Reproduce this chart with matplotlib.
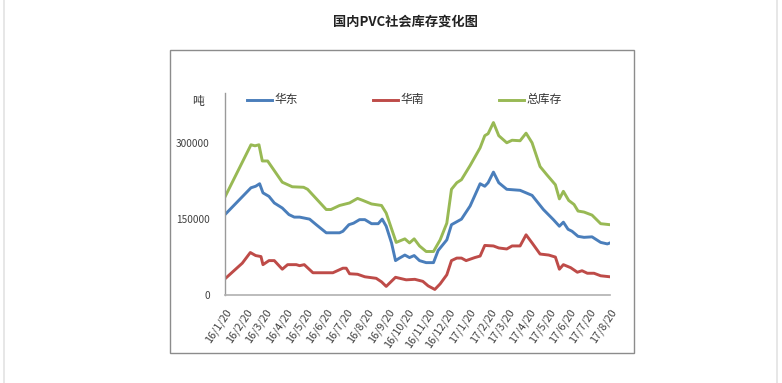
import matplotlib
matplotlib.use("Agg")
import matplotlib.pyplot as plt
from matplotlib.lines import Line2D
from matplotlib.patches import Rectangle
import pandas as pd

plt.rcParams['font.family'] = ['Noto Sans CJK SC', 'DejaVu Sans']

title = "国内PVC社会库存变化图"
unit_label = "吨"
series_names = ["华东", "华南", "总库存"]
series_colors = ["#4A7EBB", "#BE4B48", "#98B954"]

east_dates = ["2016-01-20", "2016-02-28", "2016-03-06", "2016-03-12", "2016-03-17", "2016-03-26",
              "2016-04-03", "2016-04-15", "2016-04-25", "2016-05-03", "2016-05-11", "2016-05-26",
              "2016-06-05", "2016-06-20", "2016-07-10", "2016-07-15", "2016-07-24", "2016-07-31",
              "2016-08-09", "2016-08-17", "2016-08-27", "2016-09-06", "2016-09-12", "2016-09-18",
              "2016-09-26", "2016-10-02", "2016-10-08", "2016-10-16", "2016-10-23", "2016-10-30",
              "2016-11-07", "2016-11-17", "2016-11-28", "2016-12-05", "2016-12-18", "2016-12-25",
              "2017-01-09", "2017-01-22", "2017-02-06", "2017-02-13", "2017-02-18", "2017-02-26",
              "2017-03-06", "2017-03-18", "2017-04-07", "2017-04-25", "2017-05-12", "2017-05-27",
              "2017-06-05", "2017-06-11", "2017-06-18", "2017-06-24", "2017-07-03", "2017-07-12",
              "2017-07-24", "2017-08-06", "2017-08-16", "2017-08-20"]
east_values = [159000, 212000, 215000, 220000, 202000, 195000,
               182000, 172000, 159000, 154000, 154000, 150000,
               139000, 123000, 123000, 126000, 139000, 142000,
               149000, 149000, 141000, 141000, 150000, 136000,
               103000, 68000, 73000, 79000, 74000, 78000,
               68000, 64000, 64000, 88000, 109000, 139000,
               150000, 176000, 220000, 215000, 222000, 243000,
               222000, 209000, 207000, 197000, 169000, 149000,
               136000, 144000, 130000, 126000, 116000, 114000,
               115000, 104000, 101000, 103000]

south_dates = ["2016-01-20", "2016-02-15", "2016-02-27", "2016-03-06", "2016-03-14", "2016-03-17",
               "2016-03-26", "2016-04-03", "2016-04-15", "2016-04-23", "2016-05-06", "2016-05-11",
               "2016-05-18", "2016-05-31", "2016-06-30", "2016-07-15", "2016-07-20", "2016-07-25",
               "2016-08-06", "2016-08-17", "2016-09-03", "2016-09-11", "2016-09-18", "2016-10-02",
               "2016-10-18", "2016-10-31", "2016-11-12", "2016-11-20", "2016-11-30", "2016-12-08",
               "2016-12-18", "2016-12-25", "2017-01-02", "2017-01-09", "2017-01-16", "2017-01-29",
               "2017-02-06", "2017-02-13", "2017-02-26", "2017-03-06", "2017-03-18", "2017-03-26",
               "2017-04-07", "2017-04-16", "2017-04-25", "2017-05-07", "2017-05-20", "2017-05-30",
               "2017-06-05", "2017-06-11", "2017-06-22", "2017-07-02", "2017-07-09", "2017-07-17",
               "2017-07-27", "2017-08-06", "2017-08-20"]
south_values = [32000, 63000, 84000, 78000, 76000, 60000,
                68000, 68000, 51000, 60000, 60000, 58000,
                60000, 44000, 44000, 53000, 53000, 42000,
                41000, 36000, 33000, 26000, 17000, 35000,
                30000, 31000, 27000, 18000, 11000, 22000,
                40000, 68000, 73000, 73000, 68000, 74000,
                77000, 98000, 97000, 93000, 91000, 97000,
                97000, 119000, 103000, 81000, 79000, 75000,
                51000, 60000, 54000, 45000, 48000, 43000,
                43000, 38000, 36000]

total_dates = ["2016-01-20", "2016-02-28", "2016-03-05", "2016-03-11", "2016-03-16", "2016-03-24",
               "2016-04-15", "2016-04-30", "2016-05-17", "2016-05-23", "2016-06-20", "2016-06-27",
               "2016-07-10", "2016-07-25", "2016-08-06", "2016-08-14", "2016-08-27", "2016-09-11",
               "2016-09-18", "2016-10-03", "2016-10-16", "2016-10-23", "2016-10-30", "2016-11-07",
               "2016-11-17", "2016-11-28", "2016-12-08", "2016-12-18", "2016-12-25", "2017-01-02",
               "2017-01-09", "2017-01-22", "2017-02-06", "2017-02-13", "2017-02-18", "2017-02-26",
               "2017-03-06", "2017-03-18", "2017-03-26", "2017-04-07", "2017-04-16", "2017-04-25",
               "2017-05-07", "2017-05-17", "2017-05-30", "2017-06-05", "2017-06-11", "2017-06-19",
               "2017-06-27", "2017-07-03", "2017-07-12", "2017-07-24", "2017-08-06", "2017-08-20"]
total_values = [194000, 297000, 295000, 297000, 265000, 265000,
                223000, 214000, 213000, 209000, 169000, 169000,
                177000, 182000, 191000, 187000, 180000, 177000,
                162000, 104000, 111000, 103000, 111000, 97000,
                86000, 86000, 109000, 142000, 209000, 222000,
                228000, 256000, 291000, 315000, 319000, 341000,
                315000, 301000, 306000, 305000, 320000, 301000,
                254000, 238000, 218000, 190000, 205000, 187000,
                179000, 166000, 164000, 158000, 141000, 139000]

x_tick_dates = ["2016-01-20", "2016-02-20", "2016-03-20", "2016-04-20", "2016-05-20", "2016-06-20",
                "2016-07-20", "2016-08-20", "2016-09-20", "2016-10-20", "2016-11-20", "2016-12-20",
                "2017-01-20", "2017-02-20", "2017-03-20", "2017-04-20", "2017-05-20", "2017-06-20",
                "2017-07-20", "2017-08-20"]
x_tick_labels = ["16/1/20", "16/2/20", "16/3/20", "16/4/20", "16/5/20", "16/6/20",
                 "16/7/20", "16/8/20", "16/9/20", "16/10/20", "16/11/20", "16/12/20",
                 "17/1/20", "17/2/20", "17/3/20", "17/4/20", "17/5/20", "17/6/20",
                 "17/7/20", "17/8/20"]
y_ticks = [0, 150000, 300000]
y_max = 400000

W, H = 782, 383
fig = plt.figure(figsize=(W / 100, H / 100), dpi=100)
fig.patch.set_facecolor("white")

# page side lines
fig.add_artist(Line2D([3.5 / W, 3.5 / W], [0, 1], color="#e3e3e3", lw=1.2, transform=fig.transFigure))
fig.add_artist(Line2D([776.5 / W, 776.5 / W], [0, 1], color="#e3e3e3", lw=1.2, transform=fig.transFigure))
# chart border
fig.add_artist(Rectangle((170 / W, 1 - 353 / H), (634 - 170) / W, (353 - 50) / H,
                         fill=False, edgecolor="#8c8c8c", lw=1.0, transform=fig.transFigure))

fig.text(405.5 / W, 1 - 21.5 / H, title, ha="center", va="center", fontsize=9.5,
         fontweight="bold", color="#222222")

left, right, top, bottom = 225, 610, 92.7, 295
ax = fig.add_axes([left / W, 1 - bottom / H, (right - left) / W, (bottom - top) / H])

series = [
    (pd.to_datetime(east_dates), east_values),
    (pd.to_datetime(south_dates), south_values),
    (pd.to_datetime(total_dates), total_values),
]
for (d, v), c in zip(series, series_colors):
    ax.plot(d, v, color=c, lw=2.1, solid_joinstyle="round")

ax.set_xlim(pd.Timestamp(x_tick_dates[0]), pd.Timestamp(x_tick_dates[-1]))
ax.set_ylim(0, y_max)
ax.set_yticks(y_ticks)
ax.set_yticklabels([str(t) for t in y_ticks], fontsize=7.3, color="#404040")
ax.set_xticks(pd.to_datetime(x_tick_dates))
ax.set_xticklabels(x_tick_labels, fontsize=7.8, color="#404040", rotation=56,
                   ha="right", va="top", rotation_mode="anchor")
ax.tick_params(axis="both", length=0)
ax.tick_params(axis="y", pad=11)
ax.tick_params(axis="x", pad=9)
for s in ["top", "right"]:
    ax.spines[s].set_visible(False)
ax.spines["left"].set_color("#9a9a9a")
ax.spines["bottom"].set_color("#b0b0b0")
ax.spines["left"].set_linewidth(1.0)
ax.spines["bottom"].set_linewidth(1.2)

fig.text(198 / W, 1 - 101 / H, unit_label, ha="center", va="center", fontsize=8.5, color="#333333")

# legend
leg_x = [247, 373, 499]
leg_y = 99.5
for name, c, x0 in zip(series_names, series_colors, leg_x):
    fig.add_artist(Line2D([x0 / W, (x0 + 25) / W], [1 - leg_y / H, 1 - leg_y / H], color=c, lw=2.1,
                          transform=fig.transFigure))
    fig.text((x0 + 27) / W, 1 - (leg_y - 0.5) / H, name, ha="left", va="center", fontsize=8.5,
             color="#333333")

fig.savefig("out.png", dpi=100, facecolor="white")
